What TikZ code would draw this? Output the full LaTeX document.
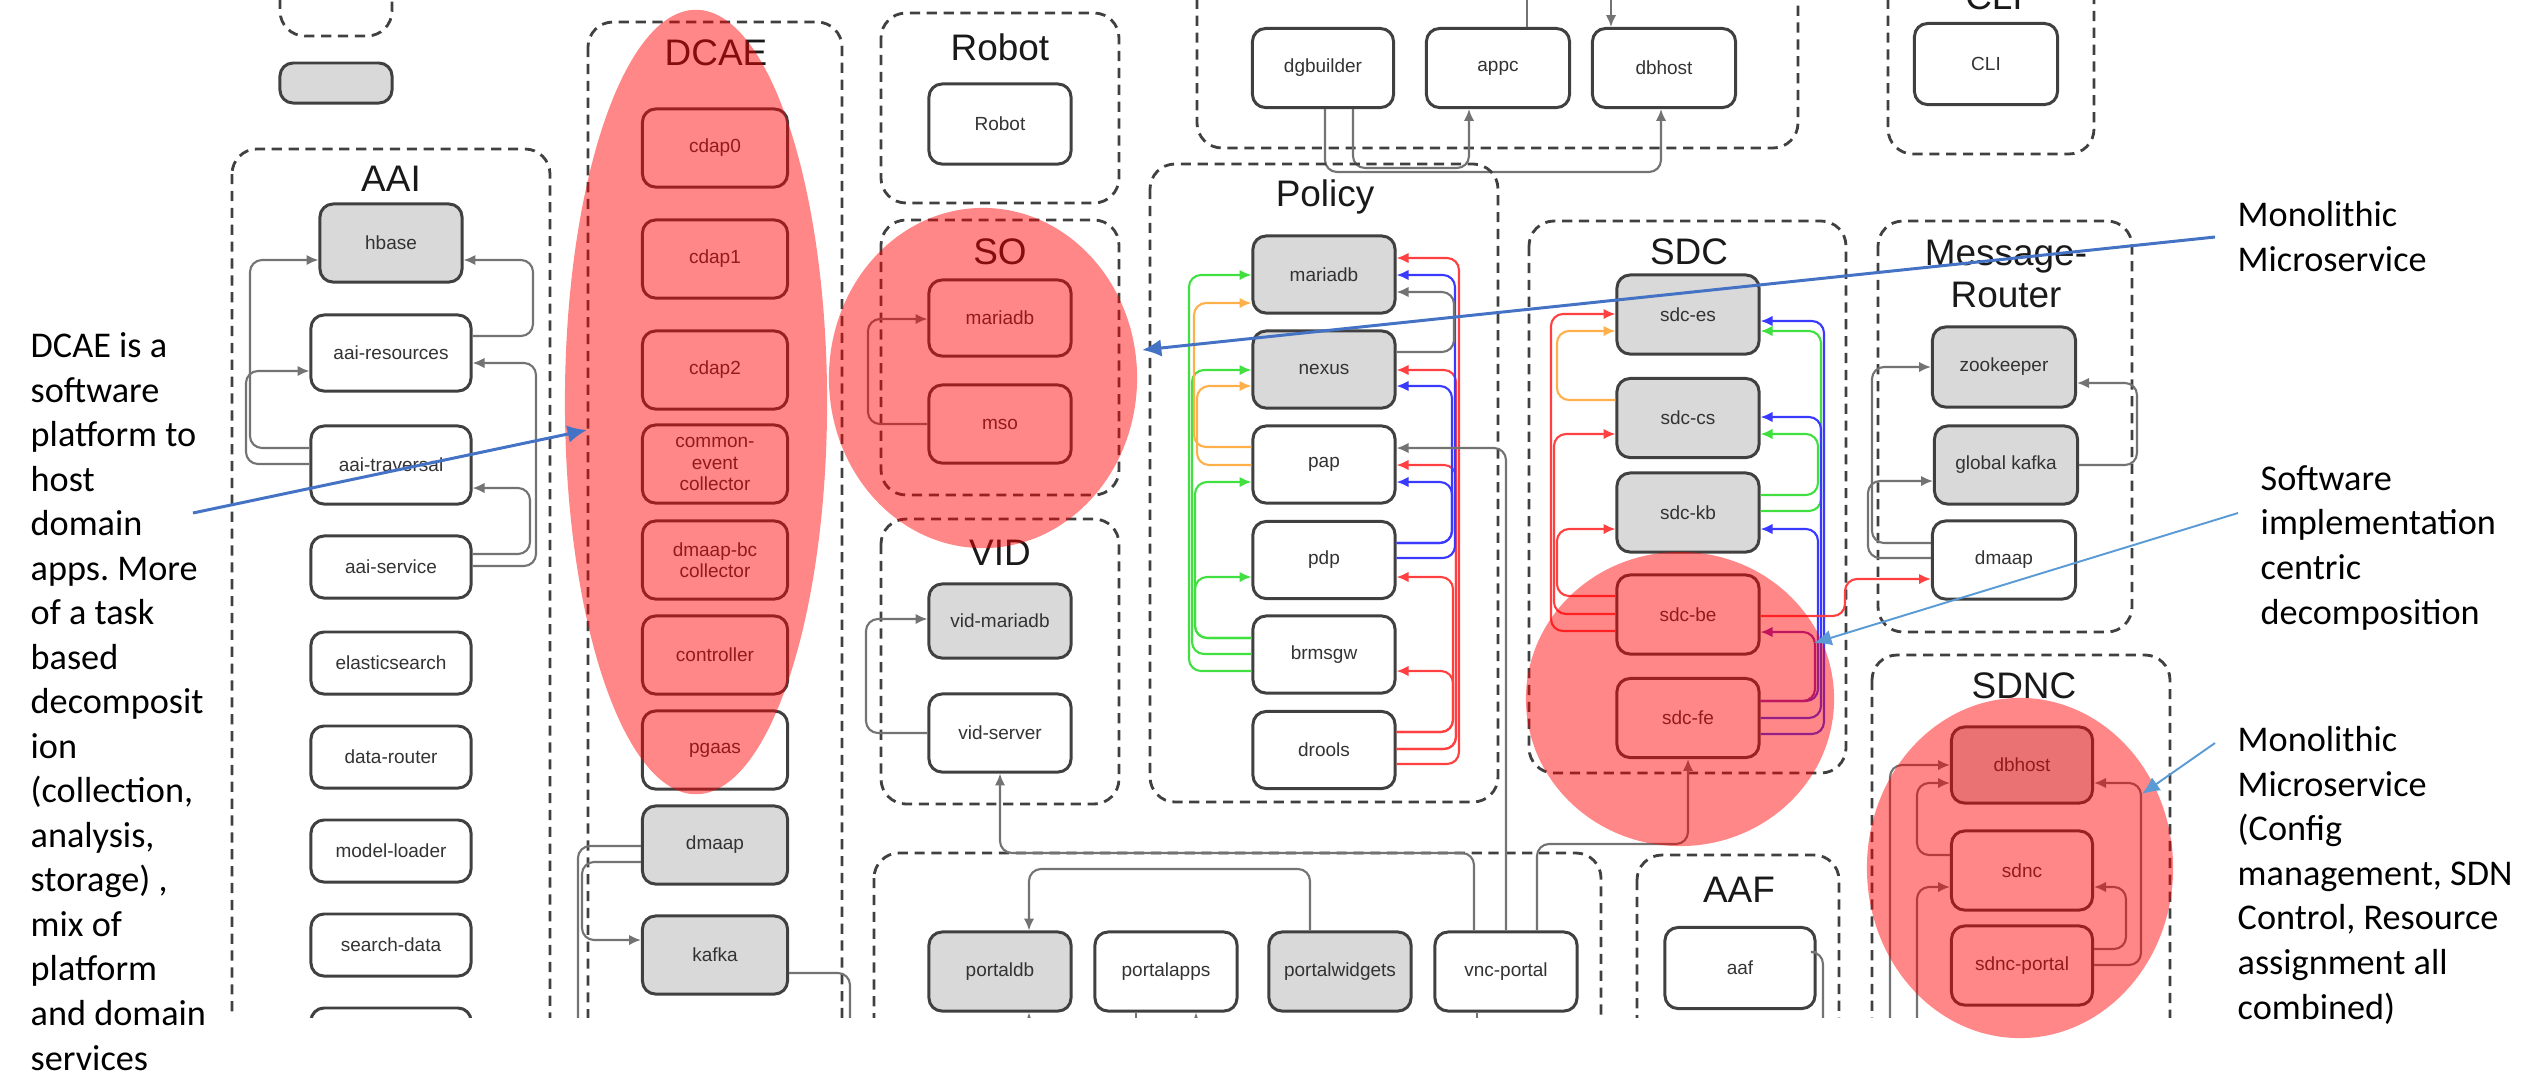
\documentclass[tikz,border=0pt]{standalone}
\usepackage{fontspec}
\setmainfont{Liberation Sans}
\newfontfamily\calibrifont{Carlito}
\usetikzlibrary{arrows.meta,calc}
\frenchspacing

\newcommand\svcfont{\fontsize{5.4}{6}\selectfont}
\newcommand\grpfont{\fontsize{10.5}{12}\selectfont}
\newcommand\annfont{\calibrifont\fontsize{10.3}{12.66}\selectfont}

\definecolor{lnkred}{HTML}{FF4040}
\definecolor{lnkblue}{HTML}{3A3AFF}
\definecolor{lnkgreen}{HTML}{40E040}
\definecolor{lnkorange}{HTML}{FFB04A}
\definecolor{lnkpurple}{HTML}{8A2BB0}
\definecolor{calldark}{HTML}{4472C4}
\definecolor{calllight}{HTML}{5B9BD5}

\tikzset{
  svc/.style={draw=black!75, line width=0.85pt, rounded corners=1.3mm,
    fill=white, text=black!80, font=\svcfont, align=center,
    minimum width=1.42cm, minimum height=0.78cm, inner sep=1pt},
  store/.style={svc, fill=black!15},
  aaibox/.style={svc, minimum width=1.6cm, minimum height=0.62cm},
  grp/.style={draw=black!75, line width=0.8pt, dash pattern=on 2.9pt off 1.9pt, rounded corners=2.5mm},
  grptitle/.style={font=\grpfont, text=black!90, inner sep=0pt, align=center},
  link/.style={draw=black!55, line width=0.6pt, rounded corners=1.2mm},
  arrowed/.style={-{Latex[length=3.4pt,width=3pt]}},
  blob/.style={fill=red, fill opacity=0.47},
  note/.style={font=\annfont, align=left, anchor=base west, inner sep=0pt},
  notearrow/.style={draw=calldark, line width=0.85pt, -{Latex[length=5.5pt,width=5pt]}},
  notearrowthin/.style={draw=calllight, line width=0.55pt, -{Latex[length=5pt,width=4.5pt]}}
}

\begin{document}
\begin{tikzpicture}[x=0.01cm,y=-0.01cm]
\useasboundingbox (0,0) rectangle (2529,1078);

\begin{scope}
\clip (0,0) rectangle (2529,1017);

% top left leftovers
\draw[grp] (280,-60) rectangle (392,36);
\node[store, minimum width=1.12cm, minimum height=0.40cm] (spare) at (336,83) {};

% AAI
\draw[grp] (232,149) rectangle (550,1100);
\node[grptitle] (aaititle) at (391,179) {AAI};
\node[aaibox, store, minimum height=0.78cm] (hbase) at (391,243) {hbase};
\node[aaibox, minimum height=0.76cm] (aaires) at (391,353) {aai-resources};
\node[aaibox, minimum height=0.78cm] (aaitrav) at (391,465) {aai-traversal};
\node[aaibox] (aaiservice) at (391,567) {aai-service};
\node[aaibox] (elastic) at (391,663) {elasticsearch};
\node[aaibox] (datarouter) at (391,757) {data-router};
\node[aaibox] (modelloader) at (391,851) {model-loader};
\node[aaibox] (searchdata) at (391,945) {search-data};
\node[aaibox] (aaimore) at (391,1039) {};

\draw[link,arrowed] (aaitrav.west |- 0,448) -- (250,448) |- (hbase.west |- 0,260);
\draw[link,arrowed] (aaitrav.west |- 0,464) -- (246,464) |- (aaires.west |- 0,371);
\draw[link,arrowed] (aaires.east |- 0,336) -- (533,336) |- (hbase.east |- 0,260);
\draw[link,arrowed] (aaiservice.east |- 0,554) -- (530,554) |- (aaitrav.east |- 0,488);
\draw[link,arrowed] (aaiservice.east |- 0,566) -- (536,566) |- (aaires.east |- 0,363);

% DCAE
\draw[grp] (588,22) rectangle (842,1100);
\node[grptitle] (dcaetitle) at (716,53) {DCAE};
\node[svc, minimum width=1.45cm] (cdapzero) at (715,148) {cdap0};
\node[svc, minimum width=1.45cm] (cdapone) at (715,259) {cdap1};
\node[svc, minimum width=1.45cm] (cdaptwo) at (715,370) {cdap2};
\node[svc, minimum width=1.45cm] (cec) at (715,464) {common-\\event\\collector};
\node[svc, minimum width=1.45cm] (dbc) at (715,560) {dmaap-bc\\collector};
\node[svc, minimum width=1.45cm] (controller) at (715,655) {controller};
\node[svc, minimum width=1.45cm] (pgaas) at (715,750) {pgaas};
\node[store, minimum width=1.45cm] (dcaedmaap) at (715,845) {dmaap};
\node[store, minimum width=1.45cm] (kafka) at (715,955) {kafka};

\coordinate (dcaeout) at (578,1100);
\coordinate (kafkaout) at (850,1100);
\draw[link,arrowed] (dcaedmaap.west |- 0,862) -- (582,862) |- (kafka.west |- 0,940);
\draw[link] (dcaedmaap.west |- 0,846) -- (578,846) -- (dcaeout);
\draw[link] (kafka.east |- 0,973) -| (kafkaout);

% Robot
\draw[grp] (881,13) rectangle (1119,203);
\node[grptitle] (robottitle) at (1000,47) {Robot};
\node[svc, minimum height=0.80cm] (robot) at (1000,124) {Robot};

% SO
\draw[grp] (881,220) rectangle (1119,495);
\node[grptitle] (sotitle) at (1000,252) {SO};
\node[svc, minimum height=0.76cm] (somaria) at (1000,318) {mariadb};
\node[svc] (mso) at (1000,424) {mso};
\draw[link,arrowed] (mso.west |- 0,424) -- (868,424) |- (somaria.west |- 0,319);

% VID
\draw[grp] (881,519) rectangle (1119,804);
\node[grptitle] (vidtitle) at (1000,553) {VID};
\node[store, minimum height=0.74cm] (vidmaria) at (1000,621) {vid-mariadb};
\node[svc] (vidserver) at (1000,733) {vid-server};
\draw[link,arrowed] (vidserver.west |- 0,733) -- (866,733) |- (vidmaria.west |- 0,619);

% APPC
\draw[grp] (1197,-60) rectangle (1798,148);
\node[svc, minimum width=1.41cm, minimum height=0.79cm] (dgbuilder) at (1323,68) {dgbuilder};
\node[svc, minimum width=1.43cm, minimum height=0.79cm] (appc) at (1498,68) {appc};
\node[svc, minimum width=1.43cm, minimum height=0.79cm] (appcdb) at (1664,68) {dbhost};

\coordinate (topin) at (1611,-20);
\coordinate (topout) at (1527,-20);
\draw[link,arrowed] (topin) -- (appcdb.north -| topin);
\draw[link] (appc.north -| topout) -- (topout);
\draw[link,arrowed] (dgbuilder.south -| 1325,0) -- (1325,172) -| (appcdb.south -| 1661,0);
\draw[link,arrowed] (dgbuilder.south -| 1353,0) -- (1353,168) -| (appc.south -| 1469,0);

% Policy
\draw[grp] (1150,164) rectangle (1498,802);
\node[grptitle] (policytitle) at (1325,197) {Policy};
\node[store, minimum height=0.77cm] (polmaria) at (1324,274.5) {mariadb};
\node[store, minimum height=0.77cm] (nexus) at (1324,369.5) {nexus};
\node[svc, minimum height=0.77cm] (pap) at (1324,464.5) {pap};
\node[svc, minimum height=0.77cm] (pdp) at (1324,560) {pdp};
\node[svc, minimum height=0.77cm] (brmsgw) at (1324,654.5) {brmsgw};
\node[svc, minimum height=0.77cm] (drools) at (1324,750) {drools};

\draw[link,draw=lnkgreen,arrowed] (brmsgw.west |- 0,671) -- (1189,671) |- (polmaria.west |- 0,275);
\draw[link,draw=lnkgreen,arrowed] (brmsgw.west |- 0,654) -- (1192,654) |- (nexus.west |- 0,370);
\draw[link,draw=lnkgreen,arrowed] (brmsgw.west |- 0,638) -- (1195,638) |- (pap.west |- 0,482);
\draw[link,draw=lnkgreen,arrowed] (brmsgw.west |- 0,638) -- (1195,638) |- (pdp.west |- 0,577);
\draw[link,draw=lnkorange,arrowed] (pap.west |- 0,447) -- (1194,447) |- (polmaria.west |- 0,303);
\draw[link,draw=lnkorange,arrowed] (pap.west |- 0,465) -- (1197,465) |- (nexus.west |- 0,386);

\draw[link,draw=lnkred,arrowed] (drools.east |- 0,764) -- (1459,764) |- (polmaria.east |- 0,258);
\draw[link,draw=lnkred,arrowed] (drools.east |- 0,749) -- (1456,749) |- (nexus.east |- 0,370);
\draw[link,draw=lnkred,arrowed] (drools.east |- 0,749) -- (1456,749) |- (pap.east |- 0,465);
\draw[link,draw=lnkred,arrowed] (drools.east |- 0,732) -- (1453,732) |- (pdp.east |- 0,577);
\draw[link,draw=lnkred,arrowed] (drools.east |- 0,732) -- (1453,732) |- (brmsgw.east |- 0,671);
\draw[link,draw=lnkblue,arrowed] (pdp.east |- 0,558) -- (1455,558) |- (polmaria.east |- 0,275);
\draw[link,draw=lnkblue,arrowed] (pdp.east |- 0,543) -- (1452,543) |- (nexus.east |- 0,386);
\draw[link,draw=lnkblue,arrowed] (pdp.east |- 0,543) -- (1452,543) |- (pap.east |- 0,482);
\draw[link,arrowed] (nexus.east |- 0,352) -- (1454,352) |- (polmaria.east |- 0,292);

% SDC
\draw[grp] (1529,221) rectangle (1846,773);
\node[grptitle] (sdctitle) at (1689,252) {SDC};
\node[store, minimum height=0.79cm] (sdces) at (1688,314.5) {sdc-es};
\node[store, minimum height=0.79cm] (sdccs) at (1688,418) {sdc-cs};
\node[store, minimum height=0.79cm] (sdckb) at (1688,512.5) {sdc-kb};
\node[svc, minimum height=0.79cm] (sdcbe) at (1688,614.5) {sdc-be};
\node[svc, minimum height=0.79cm] (sdcfe) at (1688,718) {sdc-fe};

\draw[link,draw=lnkred,arrowed] (sdcbe.west |- 0,596) -- (1557,596) |- (sdckb.west |- 0,529);
\draw[link,draw=lnkred,arrowed] (sdcbe.west |- 0,614) -- (1554,614) |- (sdccs.west |- 0,434);
\draw[link,draw=lnkred,arrowed] (sdcbe.west |- 0,631) -- (1551,631) |- (sdces.west |- 0,314);
\draw[link,draw=lnkorange,arrowed] (sdccs.west |- 0,400) -- (1557,400) |- (sdces.west |- 0,331);
\draw[link,draw=lnkgreen,arrowed] (sdckb.east |- 0,495) -- (1818,495) |- (sdccs.east |- 0,434);
\draw[link,draw=lnkgreen,arrowed] (sdckb.east |- 0,511) -- (1821,511) |- (sdces.east |- 0,331);
\draw[link,draw=lnkblue,arrowed] (sdcfe.east |- 0,701) -- (1818,701) |- (sdckb.east |- 0,529);
\draw[link,draw=lnkblue,arrowed] (sdcfe.east |- 0,718) -- (1821,718) |- (sdccs.east |- 0,417);
\draw[link,draw=lnkblue,arrowed] (sdcfe.east |- 0,734) -- (1824,734) |- (sdces.east |- 0,321);
\draw[link,draw=lnkpurple,arrowed] (sdcfe.east |- 0,701) -- (1815,701) |- (sdcbe.east |- 0,632);

% Message-Router
\draw[grp] (1878,221) rectangle (2132,632);
\node[grptitle] (mrtitle) at (2006,274) {Message-\\Router};
\node[store, minimum width=1.43cm, minimum height=0.80cm] (zookeeper) at (2004,367) {zookeeper};
\node[store, minimum width=1.43cm] (gkafka) at (2006,465) {global kafka};
\node[svc, minimum width=1.43cm] (mrdmaap) at (2004,560) {dmaap};

\draw[link,arrowed] (mrdmaap.west |- 0,543) -- (1872,543) |- (zookeeper.west |- 0,367);
\draw[link,arrowed] (mrdmaap.west |- 0,558) -- (1868,558) |- (gkafka.west |- 0,481);
\draw[link,arrowed] (gkafka.east |- 0,465) -- (2137,465) |- (zookeeper.east |- 0,383);
\draw[link,draw=lnkred,arrowed] (sdcbe.east |- 0,616) -- (1845,616) |- (mrdmaap.west |- 0,579);

% Portal
\draw[grp] (874,853) rectangle (1601,1100);
\node[store, minimum height=0.79cm] (portaldb) at (1000,971.5) {portaldb};
\node[svc, minimum height=0.79cm] (portalapps) at (1166,971.5) {portalapps};
\node[store, minimum height=0.79cm] (portalwidgets) at (1340,971.5) {portalwidgets};
\node[svc, minimum height=0.79cm] (vncportal) at (1506,971.5) {vnc-portal};

\draw[link,arrowed] (portalwidgets.north -| 1310,0) -- (1310,869) -| (portaldb.north -| 1029,0);
\draw[link,arrowed] (vncportal.north -| 1474,0) -- (1474,853) -| (vidserver.south);
\draw[link,arrowed] (vncportal.north) |- (pap.east |- 0,448);
\draw[link,arrowed] (vncportal.north -| 1537,0) -- (1537,844) -| (sdcfe.south);

\coordinate (pdbin) at (1029,1100);
\coordinate (paout) at (1136,1100);
\coordinate (pain) at (1196,1100);
\coordinate (vncout) at (1477,1100);
\draw[link,arrowed] (pdbin) -- (portaldb.south -| pdbin);
\draw[link] (portalapps.south -| paout) -- (paout);
\draw[link,arrowed] (pain) -- (portalapps.south -| pain);
\draw[link] (vncportal.south -| vncout) -- (vncout);

% AAF
\draw[grp] (1637,855) rectangle (1839,1100);
\node[grptitle] (aaftitle) at (1739,890) {AAF};
\node[svc, minimum width=1.50cm, minimum height=0.81cm] (aaf) at (1740,968) {aaf};
\coordinate (aafout) at (1823,1100);
\draw[link] (aaf.east |- 0,952) -| (aafout);

% CLI
\draw[grp] (1888,-60) rectangle (2094,154);
\node[grptitle] (clititle) at (1994,-3) {CLI};
\node[svc, minimum width=1.43cm, minimum height=0.81cm] (cli) at (1986,64) {CLI};

% SDNC
\draw[grp] (1872,655) rectangle (2170,1100);
\node[grptitle] (sdnctitle) at (2024,686) {SDNC};
\node[store, minimum width=1.41cm, minimum height=0.76cm] (sdnchost) at (2022,765) {dbhost};
\node[svc, minimum width=1.41cm, minimum height=0.79cm] (sdnc) at (2022,870.5) {sdnc};
\node[svc, minimum width=1.41cm, minimum height=0.79cm] (sdncportal) at (2022,965.5) {sdnc-portal};

\coordinate (sdncina) at (1890,1100);
\coordinate (sdncinb) at (1917,1100);
\draw[link,arrowed] (sdnc.west |- 0,855) -- (1917,855) |- (sdnchost.west |- 0,783);
\draw[link,arrowed] (sdncina) |- (sdnchost.west |- 0,765);
\draw[link,arrowed] (sdncinb) |- (sdnc.west |- 0,887);
\draw[link,arrowed] (sdncportal.east |- 0,965) -- (2141,965) |- (sdnchost.east |- 0,783);
\draw[link,arrowed] (sdncportal.east |- 0,949) -- (2126,949) |- (sdnc.east |- 0,887);
\end{scope}

% highlighted areas
\fill[blob] (696,402) ellipse [x radius=1.31cm, y radius=3.92cm];
\fill[blob] (983,378) ellipse [x radius=1.54cm, y radius=1.70cm];
\fill[blob] (1680,699) ellipse [x radius=1.54cm, y radius=1.47cm];
\fill[blob] (2020,868) ellipse [x radius=1.53cm, y radius=1.70cm];

% notes (anchored at the baseline of their last line)
\node[note] (dcaenote) at (30,1070) {DCAE is a\\software\\platform to\\host\\domain\\apps. More\\of a task\\based\\decomposit\\ion\\(collection,\\analysis,\\storage) ,\\mix of\\platform\\and domain\\services};
\node[note] (sonote) at (2237,271) {Monolithic\\Microservice};
\node[note] (sdcnote) at (2260,624) {Software\\implementation\\centric\\decomposition};
\node[note] (sdncnote) at (2237,1019) {Monolithic\\Microservice\\(Config\\management, SDN\\Control, Resource\\assignment all\\combined)};

\coordinate (dcaetail) at (193,513);
\coordinate (dcaehead) at (587,430);
\coordinate (sotail) at (2215,237);
\coordinate (sohead) at (1142,350);
\coordinate (sdctail) at (2238,513);
\coordinate (sdchead) at (1814,643);
\coordinate (sdnctail) at (2215,743);
\coordinate (sdnchead) at (2142,794);
\draw[notearrow] (dcaetail) -- (dcaehead);
\draw[notearrow] (sotail) -- (sohead);
\draw[notearrowthin] (sdctail) -- (sdchead);
\draw[notearrowthin] (sdnctail) -- (sdnchead);
\end{tikzpicture}
\end{document}
